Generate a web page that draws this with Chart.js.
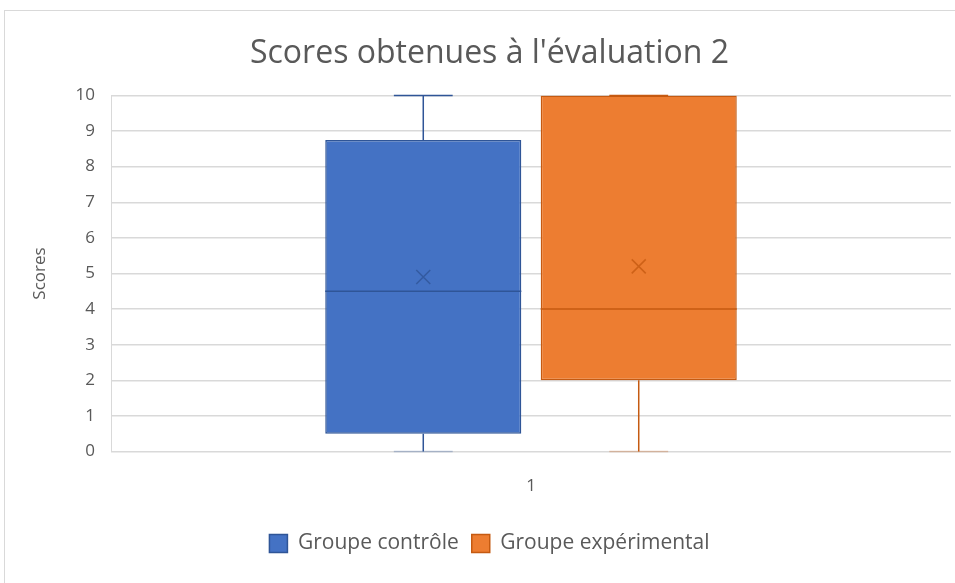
<!DOCTYPE html>
<html>
<head>
<meta charset="utf-8">
<title>Scores obtenues à l'évaluation 2</title>
<script src="https://cdn.jsdelivr.net/npm/chart.js"></script>
<style>
    body { margin: 0; background: #fff; }
    .frame { position: absolute; left: 4px; top: 10px; width: 980px; height: 600px; border: 1px solid #d9d9d9; }
    .chart-container { position: absolute; left: 0; top: 0; width: 955px; height: 583px; }
</style>
</head>
<body>
<div class="frame"></div>
<div class="chart-container"><canvas id="boxChart"></canvas></div>
<script>
var categories = ['1'];
var groups = ['Groupe contrôle', 'Groupe expérimental'];
var minValues = [0, 0];
var q1Values = [0.5, 2];
var medianValues = [4.5, 4];
var q3Values = [8.75, 10];
var maxValues = [10, 10];
var meanValues = [4.9, 5.2];

var fillColors = ['#4472c4', '#ed7d31'];
var lineColors = ['#2f5597', '#c55a11'];
var textColor = '#595959';
var fontFamily = '"Open Sans", sans-serif';

// whiskers, median and mean marker drawn on top of the floating bars
var boxWhiskers = {
    id: 'boxWhiskers',
    afterDatasetsDraw: function(chart) {
        var ctx = chart.ctx;
        var y = chart.scales.y;
        chart.data.datasets.forEach(function(ds, i) {
            var bar = chart.getDatasetMeta(i).data[0];
            var x = bar.x, w = bar.width;
            var cap = w * 0.15;
            ctx.save();
            ctx.strokeStyle = lineColors[i];
            ctx.lineWidth = 1.5;
            ctx.beginPath();
            // median
            var ym = y.getPixelForValue(medianValues[i]);
            ctx.moveTo(x - w / 2, ym); ctx.lineTo(x + w / 2, ym);
            // whiskers
            ctx.moveTo(x, y.getPixelForValue(q3Values[i])); ctx.lineTo(x, y.getPixelForValue(maxValues[i]));
            ctx.moveTo(x, y.getPixelForValue(q1Values[i])); ctx.lineTo(x, y.getPixelForValue(minValues[i]));
            ctx.stroke();
            // caps
            ctx.beginPath();
            var yt = y.getPixelForValue(maxValues[i]);
            ctx.moveTo(x - cap, yt); ctx.lineTo(x + cap, yt);
            ctx.stroke();
            ctx.globalAlpha = 0.3;
            ctx.beginPath();
            var yb = y.getPixelForValue(minValues[i]);
            ctx.moveTo(x - cap, yb); ctx.lineTo(x + cap, yb);
            ctx.stroke();
            ctx.globalAlpha = 0.8;
            // mean marker
            var ya = y.getPixelForValue(meanValues[i]);
            var s = 7;
            ctx.beginPath();
            ctx.moveTo(x - s, ya - s); ctx.lineTo(x + s, ya + s);
            ctx.moveTo(x + s, ya - s); ctx.lineTo(x - s, ya + s);
            ctx.stroke();
            ctx.restore();
        });
    }
};

var datasets = groups.map(function(name, i) {
    return {
        label: name,
        data: [[q1Values[i], q3Values[i]]],
        backgroundColor: fillColors[i],
        borderColor: lineColors[i],
        borderWidth: 1.5,
        borderSkipped: false,
        barPercentage: 0.91,
        categoryPercentage: 0.513
    };
});

var ctx = document.getElementById('boxChart').getContext('2d');
var boxChart = new Chart(ctx, {
    type: 'bar',
    data: { labels: categories, datasets: datasets },
    plugins: [boxWhiskers],
    options: {
        responsive: true,
        maintainAspectRatio: false,
        animation: false,
        layout: { padding: { left: 28, right: 4, top: 0, bottom: 19 } },
        plugins: {
            title: {
                display: true,
                text: "Scores obtenues à l'évaluation 2",
                color: textColor,
                font: { family: fontFamily, size: 32, weight: 'normal' },
                padding: { top: 35, bottom: 22 }
            },
            legend: {
                position: 'bottom',
                labels: {
                    color: textColor,
                    font: { family: fontFamily, size: 21 },
                    boxWidth: 18,
                    boxHeight: 18,
                    padding: 13
                }
            },
            tooltip: { enabled: false }
        },
        scales: {
            x: {
                grid: { display: false },
                border: { display: false },
                ticks: { color: textColor, font: { family: fontFamily, size: 17 }, padding: 16 },
                afterFit: function(scale) { scale.height += 8; }
            },
            y: {
                min: 0,
                max: 10,
                ticks: { stepSize: 1, color: textColor, font: { family: fontFamily, size: 17 }, padding: 16 },
                grid: { color: '#d9d9d9', lineWidth: 1.5, drawTicks: false },
                border: { color: '#d9d9d9', width: 1 },
                title: { display: true, text: 'Scores', color: textColor, font: { family: fontFamily, size: 17 }, padding: { top: 2, bottom: 0 } },
                afterFit: function(scale) { scale.width = 83; }
            }
        }
    }
});
</script>
</body>
</html>
